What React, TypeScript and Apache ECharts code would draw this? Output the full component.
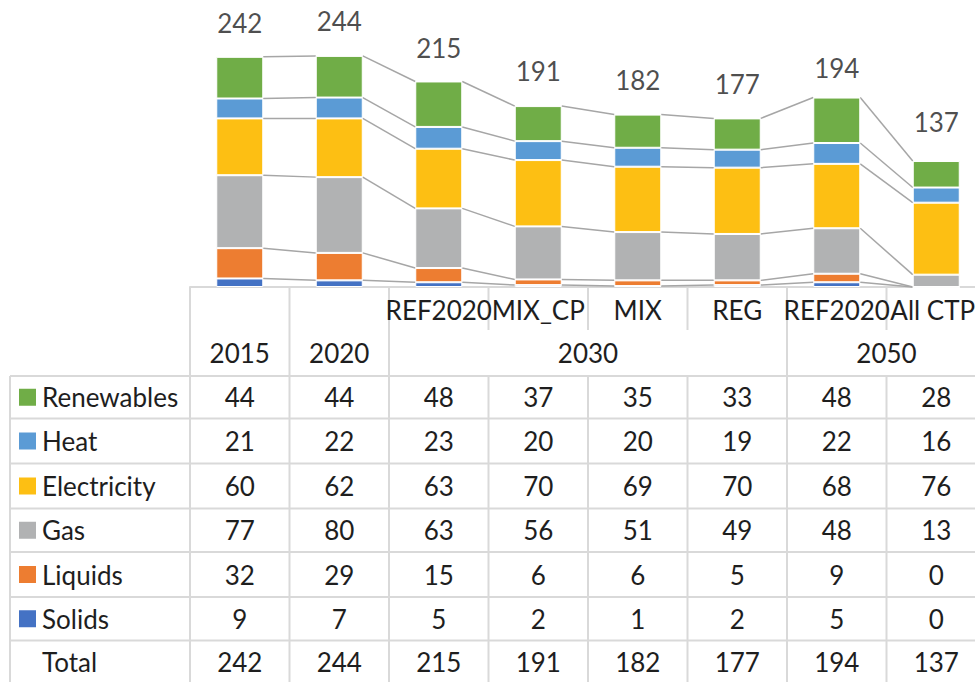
import React, { useEffect, useRef } from 'react';
import * as echarts from 'echarts';

// ---------- data ----------
const scenarios = ['', '', 'REF2020', 'MIX_CP', 'MIX', 'REG', 'REF2020', 'All CTP'];
const yearGroups = [
  { label: '2015', from: 0, to: 0 },
  { label: '2020', from: 1, to: 1 },
  { label: '2030', from: 2, to: 5 },
  { label: '2050', from: 6, to: 7 },
];
const renewables = [44, 44, 48, 37, 35, 33, 48, 28];
const heat = [21, 22, 23, 20, 20, 19, 22, 16];
const electricity = [60, 62, 63, 70, 69, 70, 68, 76];
const gas = [77, 80, 63, 56, 51, 49, 48, 13];
const liquids = [32, 29, 15, 6, 6, 5, 9, 0];
const solids = [9, 7, 5, 2, 1, 2, 5, 0];
const totals = [242, 244, 215, 191, 182, 177, 194, 137];

// stack order bottom -> top
const stackSeries = [
  { name: 'Solids', data: solids, color: '#4472C4' },
  { name: 'Liquids', data: liquids, color: '#ED7D31' },
  { name: 'Gas', data: gas, color: '#B1B2B3' },
  { name: 'Electricity', data: electricity, color: '#FDBF13' },
  { name: 'Heat', data: heat, color: '#5B9BD5' },
  { name: 'Renewables', data: renewables, color: '#70AD47' },
];
// table rows top -> bottom
const tableRows = [
  { name: 'Renewables', data: renewables, color: '#70AD47' },
  { name: 'Heat', data: heat, color: '#5B9BD5' },
  { name: 'Electricity', data: electricity, color: '#FDBF13' },
  { name: 'Gas', data: gas, color: '#B1B2B3' },
  { name: 'Liquids', data: liquids, color: '#ED7D31' },
  { name: 'Solids', data: solids, color: '#4472C4' },
  { name: 'Total', data: totals, color: null as string | null },
];

// ---------- layout ----------
const FONT = 'Lato';
const FS = 26;
const TXT = '#1E1E1E';
const GRID_LINE = '#D9D9D9';
const GRID_LEFT = 190;
const GRID_WIDTH = 796;
const AXIS_Y = 287;
const BAR_W = 47;
const Y_MAX = 303;
const SCEN_Y = 310;
const SUB_BOTTOM = 330;
const YEAR_Y = 353;
const ROW_LINES = [376, 418.5, 463.5, 508.5, 552, 597, 640.5];
const TABLE_BOTTOM = 690;
const TABLE_LEFT = 10;

export default function App() {
  const ref = useRef<HTMLDivElement>(null);

  useEffect(() => {
    document.body.style.margin = '0';
    const chart = echarts.init(ref.current!, null, { renderer: 'svg' });

    const cum: number[][] = [];
    stackSeries.forEach((s, k) => {
      cum.push(s.data.map((v, i) => v + (k > 0 ? cum[k - 1][i] : 0)));
    });

    const labelStyle = { fontFamily: FONT, fontSize: FS, color: TXT };

    const option: any = {
      animation: false,
      backgroundColor: '#ffffff',
      grid: {
        left: GRID_LEFT,
        width: GRID_WIDTH,
        top: 0,
        height: AXIS_Y,
        containLabel: false,
        outerBoundsMode: 'none',
      },
      xAxis: {
        type: 'category',
        data: scenarios,
        axisLine: { show: true, lineStyle: { color: GRID_LINE, width: 2 } },
        axisTick: { show: false },
        axisLabel: {
          show: true,
          interval: 0,
          hideOverlap: false,
          margin: SCEN_Y - AXIS_Y,
          verticalAlign: 'middle',
          ...labelStyle,
          formatter: (v: string, i: number) =>
            i === scenarios.length - 1 ? `{last|${v}}` : `{n|${v}}`,
          rich: {
            n: { ...labelStyle },
            last: { ...labelStyle, padding: [0, 7, 0, 0] },
          },
        },
      },
      yAxis: { type: 'value', min: 0, max: Y_MAX, show: false, splitLine: { show: false } },
      series: [
        ...stackSeries.map((s) => ({
          type: 'bar',
          name: s.name,
          stack: 'total',
          data: s.data,
          barWidth: BAR_W,
          itemStyle: { color: s.color, borderColor: '#FFFFFF', borderWidth: 1 },
        })),
        {
          type: 'custom',
          name: 'seriesLines',
          data: scenarios.slice(0, -1).map((_, i) => [i, 0]),
          encode: { x: 0, y: 1 },
          renderItem: (params: any, api: any) => {
            const i = params.dataIndex;
            const half = BAR_W / 2;
            const children: any[] = [];
            for (let k = 0; k < cum.length; k++) {
              const p1 = api.coord([i, cum[k][i]]);
              const p2 = api.coord([i + 1, cum[k][i + 1]]);
              children.push({
                type: 'line',
                shape: { x1: p1[0] + half, y1: p1[1], x2: p2[0] - half, y2: p2[1] },
                style: { stroke: '#A6A6A6', lineWidth: 1.5 },
              });
            }
            return { type: 'group', children };
          },
          z: 1,
        },
        {
          type: 'scatter',
          name: 'Total',
          data: totals.map((t, i) => [i, t]),
          symbolSize: 0,
          label: {
            show: true,
            position: 'inside',
            offset: [0, -35],
            formatter: (p: any) => String(p.value[1]),
            ...labelStyle,
          },
        },
      ],
    };
    chart.setOption(option);

    // ---------- data table, columns placed through the category axis ----------
    const xs = scenarios.map((_, i) => chart.convertToPixel({ xAxisIndex: 0 }, i) as number);
    const band = xs[1] - xs[0];
    const bounds = [...xs.map((x) => x - band / 2), xs[xs.length - 1] + band / 2];
    const groupEdges = new Set<number>();
    yearGroups.forEach((g) => {
      groupEdges.add(g.from);
      groupEdges.add(g.to + 1);
    });

    const g: any[] = [];
    const line = (x1: number, y1: number, x2: number, y2: number) =>
      g.push({ type: 'line', shape: { x1, y1, x2, y2 }, style: { stroke: GRID_LINE, lineWidth: 2 }, silent: true });
    const text = (t: string, x: number, y: number, align = 'center') =>
      g.push({
        type: 'text',
        style: { text: t, x, y, textAlign: align, textVerticalAlign: 'middle', font: `${FS}px ${FONT}`, fill: TXT },
        silent: true,
      });

    // vertical lines
    bounds.forEach((b, j) => {
      line(b, AXIS_Y, b, SUB_BOTTOM);
      if (groupEdges.has(j)) line(b, SUB_BOTTOM, b, ROW_LINES[0]);
      line(b, ROW_LINES[0], b, TABLE_BOTTOM);
    });
    line(TABLE_LEFT, ROW_LINES[0], TABLE_LEFT, TABLE_BOTTOM);
    // horizontal lines
    ROW_LINES.forEach((y) => line(TABLE_LEFT, y, bounds[bounds.length - 1], y));

    // year row
    yearGroups.forEach((gr) => {
      const cx = (bounds[gr.from] + bounds[gr.to + 1]) / 2;
      text(gr.label, cx, YEAR_Y);
    });

    // value rows
    const rowCenters = ROW_LINES.map((y, r) =>
      r < ROW_LINES.length - 1 ? (y + ROW_LINES[r + 1]) / 2 : y + 21.5,
    );
    tableRows.forEach((row, r) => {
      const cy = rowCenters[r];
      if (row.color) {
        g.push({ type: 'rect', shape: { x: 19, y: cy - 8.5, width: 17, height: 17 }, style: { fill: row.color }, silent: true });
      }
      text(row.name, 42, cy, 'left');
      row.data.forEach((v, i) => text(String(v), xs[i], cy));
    });

    chart.setOption({ graphic: { elements: g } });

    return () => chart.dispose();
  }, []);

  return <div ref={ref} style={{ width: 975, height: 682 }} />;
}
